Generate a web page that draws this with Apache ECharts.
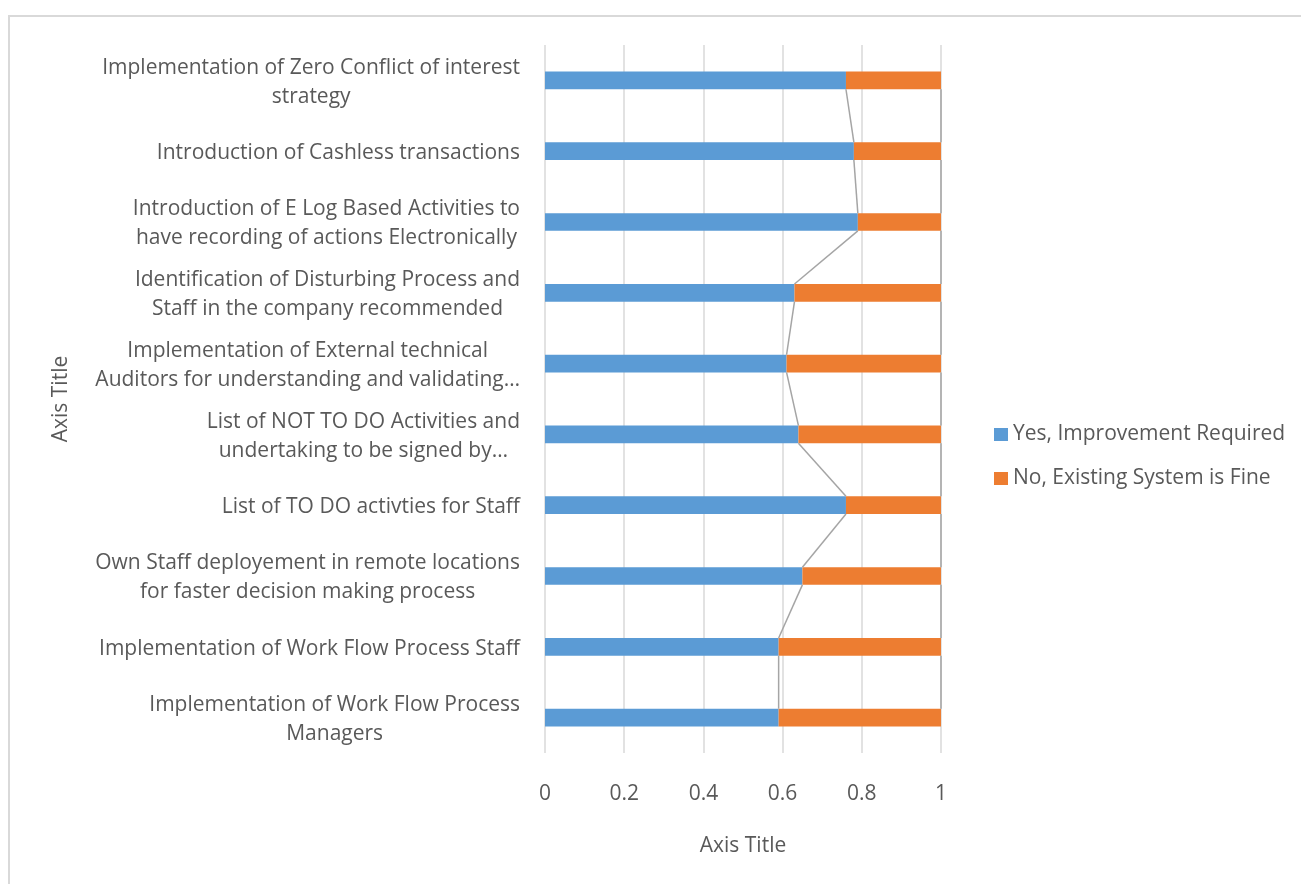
<!DOCTYPE html>
<html>
<head>
<meta charset="utf-8">
<script src="https://cdn.jsdelivr.net/npm/echarts@6/dist/echarts.min.js"></script>
<style>html,body{margin:0;padding:0;background:#fff;}#c{width:1301px;height:884px;}</style>
</head>
<body>
<div id="c"></div>
<script>
// categories bottom -> top
const categories = [
  "Implementation of Work Flow Process\nManagers",
  "Implementation of Work Flow Process Staff",
  "Own Staff deployement in remote locations\nfor faster decision making process",
  "List of TO DO activties for Staff",
  "List of NOT TO DO Activities and\nundertaking to be signed by…",
  "Implementation of External technical\nAuditors for understanding and validating…",
  "Identification of Disturbing Process and\nStaff in the company recommended",
  "Introduction of E Log Based Activities to\nhave recording of actions Electronically",
  "Introduction of Cashless transactions",
  "Implementation of Zero Conflict of interest\nstrategy"
];
const yesValues = [0.59, 0.59, 0.65, 0.76, 0.64, 0.61, 0.63, 0.79, 0.78, 0.76];
const noValues  = [0.41, 0.41, 0.35, 0.24, 0.36, 0.39, 0.37, 0.21, 0.22, 0.24];
const seriesNames = ["Yes, Improvement Required", "No, Existing System is Fine"];
const xTicks = [0, 0.2, 0.4, 0.6, 0.8, 1];

const FONT = "Open Sans";
const FS = 21;
const TXT = "#595959";
const BAR_FRAC = 0.25;

// series line data: pairs of adjacent categories with stacked ends
const seriesLineData = [];
for (let i = 0; i < categories.length - 1; i++) {
  seriesLineData.push([i, yesValues[i], yesValues[i + 1], yesValues[i] + noValues[i], yesValues[i + 1] + noValues[i + 1]]);
}

const chart = echarts.init(document.getElementById('c'), null, {renderer: 'canvas'});
chart.setOption({
  animation: false,
  backgroundColor: '#fff',
  textStyle: {fontFamily: FONT, color: TXT},
  graphic: [{
    type: 'rect', z: -10, silent: true,
    shape: {x: 9, y: 16, width: 1400, height: 1000},
    style: {fill: 'none', stroke: '#d9d9d9', lineWidth: 2}
  }],
  grid: {left: 545, right: 360, top: 45, bottom: 131, containLabel: false},
  legend: {
    orient: 'vertical', left: 989, top: 419,
    itemWidth: 14, itemHeight: 13, itemGap: 23, icon: 'rect',
    textStyle: {fontFamily: FONT, fontSize: FS, color: TXT},
    data: seriesNames
  },
  xAxis: {
    type: 'value', min: 0, max: 1, interval: 0.2,
    axisLine: {show: false}, axisTick: {show: false},
    splitLine: {show: true, lineStyle: {color: '#d9d9d9', width: 1.5}},
    axisLabel: {fontFamily: FONT, fontSize: FS, color: TXT, margin: 31,
      formatter: v => { const t = xTicks.find(k => Math.abs(k - v) < 1e-9); return t === undefined ? '' : String(t); }},
    name: 'Axis Title', nameLocation: 'middle', nameGap: 83,
    nameTextStyle: {fontFamily: FONT, fontSize: FS, color: TXT}
  },
  yAxis: {
    type: 'category', data: categories,
    axisLine: {show: false}, axisTick: {show: false}, splitLine: {show: false},
    axisLabel: {
      interval: 0, margin: 25, align: 'right', color: TXT, padding: [4, 0, 0, 0],
      formatter: v => v.split('\n').map(l => '{c|' + l + '}').join('\n'),
      rich: {c: {align: 'center', fontFamily: FONT, fontSize: FS, color: TXT, lineHeight: 29}}
    },
    name: 'Axis Title', nameLocation: 'middle', nameGap: 473,
    nameTextStyle: {fontFamily: FONT, fontSize: FS, color: TXT}
  },
  series: [
    {name: seriesNames[0], type: 'bar', stack: 'total', barWidth: (BAR_FRAC * 100) + '%',
     itemStyle: {color: '#5B9BD5'}, data: yesValues, z: 2},
    {name: seriesNames[1], type: 'bar', stack: 'total', barWidth: (BAR_FRAC * 100) + '%',
     itemStyle: {color: '#ED7D31'}, data: noValues, z: 2},
    {type: 'custom', coordinateSystem: 'cartesian2d', silent: true, z: 3,
     encode: {x: [1, 2], y: 0},
     data: seriesLineData,
     renderItem: function (params, api) {
       const i = api.value(0);
       const band = api.size([0, 1])[1];
       const h = band * BAR_FRAC / 2;
       const children = [];
       [[1, 2], [3, 4]].forEach(([a, b]) => {
         const p1 = api.coord([api.value(a), i]);
         const p2 = api.coord([api.value(b), i + 1]);
         children.push({type: 'line', shape: {x1: p1[0], y1: p1[1] - h, x2: p2[0], y2: p2[1] + h},
           style: {stroke: '#a5a5a5', lineWidth: 1.5}});
       });
       return {type: 'group', children: children};
     }}
  ]
});
</script>
</body>
</html>
